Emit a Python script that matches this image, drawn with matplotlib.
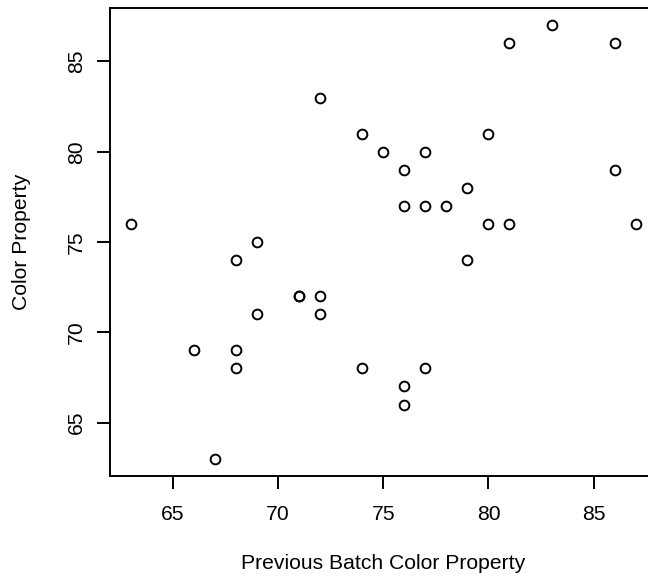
import matplotlib
matplotlib.use("Agg")
import matplotlib.pyplot as plt

# previous batch vs current batch colour property
prev_color = [63, 66, 67, 68, 68, 68, 69, 69, 71, 71, 72, 72, 72, 74, 74, 75, 76,
              76, 76, 76, 77, 77, 77, 78, 79, 79, 80, 80, 81, 81, 83, 86, 86, 87]
color_prop = [76, 69, 63, 74, 69, 68, 75, 71, 72, 72, 83, 72, 71, 81, 68, 80, 79,
              77, 67, 66, 80, 77, 68, 77, 78, 74, 81, 76, 86, 76, 87, 86, 79, 76]
ticks = [65, 70, 75, 80, 85]

plt.rcParams['font.family'] = ['Liberation Sans', 'DejaVu Sans']
fs = 15.2

W, H = 648, 578
fig = plt.figure(figsize=(W / 100, H / 100), dpi=100)
left, right, top, bottom = 110.4, 656, 8, 476
ax = fig.add_axes([left / W, (H - bottom) / H, (right - left) / W, (bottom - top) / H])

ax.plot(prev_color, color_prop, linestyle='none', marker='o', markersize=7,
        markerfacecolor='none', markeredgecolor='black', markeredgewidth=1.4)

# R style axis range: data range padded by 4%
lo, hi = min(prev_color), max(prev_color)
pad = (hi - lo) * 0.04
ax.set_xlim(lo - pad, hi + pad)
lo, hi = min(color_prop), max(color_prop)
pad = (hi - lo) * 0.04
ax.set_ylim(lo - pad, hi + pad)

ax.set_xticks(ticks)
ax.set_yticks(ticks)
ax.set_xticklabels([str(t) for t in ticks], fontsize=fs)
ax.set_yticklabels([str(t) for t in ticks], fontsize=fs, rotation=90, va='center')
ax.tick_params(axis='x', length=9.4, width=1.4, pad=11.2)
ax.tick_params(axis='y', length=9.4, width=1.4, pad=8.0)
for s in ax.spines.values():
    s.set_linewidth(1.4)

ax.set_xlabel('Previous Batch Color Property', fontsize=fs)
ax.set_ylabel('Color Property', fontsize=fs)
ax.xaxis.set_label_coords(0.5, (bottom - 554) / (bottom - top))
ax.yaxis.set_label_coords((31.5 - left) / (right - left), 0.5)

fig.savefig('out.png', dpi=100)
